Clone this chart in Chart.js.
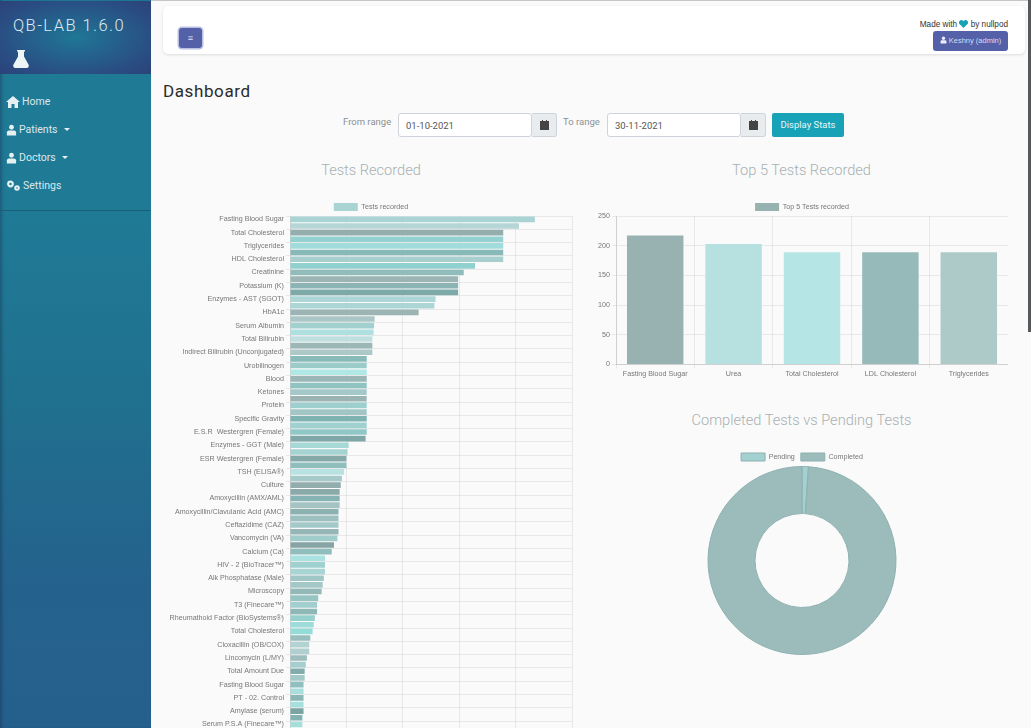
<!DOCTYPE html>
<html><head><meta charset="utf-8"><title>QB-LAB Dashboard</title>
<script src="https://cdn.jsdelivr.net/npm/chart.js@4"></script>
<style>
html,body{margin:0;padding:0;width:1031px;height:728px;overflow:hidden;background:#fafafa;font-family:Roboto,"Liberation Sans",sans-serif}
#page{position:relative;width:1031px;height:728px;overflow:hidden}
.abs{position:absolute;white-space:nowrap}
#topline{left:0;top:0;width:1031px;height:1px;background:#c4c6c8}
#side{left:0;top:0;width:151px;height:728px;background:linear-gradient(180deg,#1f7a96 0%,#1f7a96 30%,#20708f 55%,#24628c 80%,#25608c 100%);box-shadow:inset 3px 0 3px -1px rgba(20,40,70,.35)}
#brand{left:0;top:1px;width:151px;height:73px;background:radial-gradient(ellipse at 50% 50%,#1f7795 0%,#2a4c83 75%,#2b4378 100%)}
#sep{left:0;top:210px;width:151px;height:1px;background:#1c5d78}
.nav{color:#dbe9ee;font-size:10.5px;left:6px;display:flex;align-items:center;gap:2px}
.nav svg{fill:#e6f0f3}
.caret{display:inline-block;width:0;height:0;border-left:3px solid transparent;border-right:3px solid transparent;border-top:3px solid #e6f0f3;margin-left:4px}
#bar{left:163px;top:6px;width:862px;height:48px;background:#fff;border-radius:5px;box-shadow:0 1px 3px rgba(0,0,0,.12)}
#menu{left:179px;top:28px;width:23px;height:20px;background:#5460a8;border-radius:3px;box-shadow:0 0 0 1.5px #b9c0e2;color:#dfe3f3;font-size:9px;line-height:20px;text-align:center}
#made{right:23px;top:20px;font:8.2px "Liberation Sans",sans-serif;color:#333}
#user{left:933px;top:31px;width:75px;height:20px;background:#5460a8;border-radius:3px;color:#d8dcf0;font:7.5px/20px "Liberation Sans",sans-serif;text-align:center}
h1{margin:0;font-weight:400;font-size:17px;letter-spacing:.6px;color:#2b2b2b;left:163px;top:81px}
.lbl{font-size:9.5px;color:#8b9094}
.input{top:113px;height:24px;background:#fff;border:1px solid #ced4da;border-radius:3px;box-sizing:border-box;font-size:9.5px;line-height:24px;padding-left:7px;color:#555}
.addon{top:113px;width:25px;height:24px;background:#e9ecef;border:1px solid #ced4da;border-left:none;border-radius:0 3px 3px 0;box-sizing:border-box;display:flex;align-items:center;justify-content:center}
#go{left:772px;top:113px;width:72px;height:24px;background:#17a2b8;border-radius:2px;color:#e6f6f8;font-size:9.5px;line-height:24px;text-align:center}
.title{font-size:14.6px;color:#a8b1b2;font-weight:300;transform:translateX(-50%)}
#scroll{left:1028px;top:0;width:3px;height:332px;background:#55595c}
canvas{position:absolute;display:block}
</style></head><body><div id="page">
<div class="abs" id="topline"></div>
<div class="abs" id="side"></div><div class="abs" id="brand"></div><div class="abs" id="sep"></div>
<div class="abs" style="left:13px;top:16px;font-size:16.5px;letter-spacing:1.45px;color:#dfecf1;font-weight:300">QB-LAB 1.6.0</div>
<svg class="abs" style="left:13px;top:50px" width="16" height="18" viewBox="0 0 16 18"><path fill="#eef5f7" d="M4 0h8v1.6h-1v5l4.6 8.2c.6 1.2-.1 3.2-1.8 3.2H2.2C.5 18-.2 16 .4 14.800L5 6.600v-5H4z"/></svg>
<div class="abs nav" style="top:95px"><svg width="14" height="12" viewBox="0 0 14 12"><path d="M7 0 0 6h2v6h3.500V8h3v4H12V6h2z"/></svg>Home</div>
<div class="abs nav" style="top:123px"><svg width="11" height="12" viewBox="0 0 12 12"><circle cx="6" cy="3" r="2.600"/><path d="M1 12V8.500C1 7 2.500 6.500 4 6.500h4c1.500 0 3 .5 3 2V12z"/></svg>Patients<span class="caret"></span></div>
<div class="abs nav" style="top:151px"><svg width="11" height="12" viewBox="0 0 12 12"><circle cx="6" cy="3" r="2.600"/><path d="M1 12V8.500C1 7 2.500 6.500 4 6.500h4c1.500 0 3 .5 3 2V12z"/></svg>Doctors<span class="caret"></span></div>
<div class="abs nav" style="top:179px"><svg width="15" height="12" viewBox="0 0 15 12"><circle cx="4.500" cy="4" r="2.300" fill="none" stroke="#e6f0f3" stroke-width="2.200"/><circle cx="11" cy="8" r="1.800" fill="none" stroke="#e6f0f3" stroke-width="2"/></svg>Settings</div>
<div class="abs" id="bar"></div>
<div class="abs" id="menu">≡</div>
<div class="abs" id="made">Made with <svg width="9" height="8" viewBox="0 0 9 8" style="vertical-align:-1px"><path fill="#17a2b8" d="M4.500 8 0 3.500C-.5 1.500 1 0 2.300 0c1 0 1.800.6 2.200 1.300C4.900.6 5.700 0 6.700 0 8 0 9.500 1.500 9 3.500z"/></svg> by nullpod</div>
<div class="abs" id="user"><svg width="7" height="8" viewBox="0 0 12 12" style="vertical-align:-1px"><circle cx="6" cy="3" r="2.800" fill="#eef"/><path fill="#eef" d="M1 12V8.500C1 7 2.500 6.500 4 6.500h4c1.500 0 3 .5 3 2V12z"/></svg> Keshny (admin)</div>
<h1 class="abs">Dashboard</h1>
<div class="abs lbl" style="left:343px;top:116px">From range</div>
<div class="abs input" style="left:398px;width:134px">01-10-2021</div>
<div class="abs addon" style="left:532px"><svg width="9" height="10" viewBox="0 0 9 10"><path fill="#444" d="M0 1h9v9H0zM2 0h1v2H2zM6 0h1v2H6z"/></svg></div>
<div class="abs lbl" style="left:563px;top:116px">To range</div>
<div class="abs input" style="left:607px;width:134px">30-11-2021</div>
<div class="abs addon" style="left:741px"><svg width="9" height="10" viewBox="0 0 9 10"><path fill="#444" d="M0 1h9v9H0zM2 0h1v2H2zM6 0h1v2H6z"/></svg></div>
<div class="abs" id="go">Display Stats</div>
<div class="abs title" style="left:371px;top:161px">Tests Recorded</div>
<div class="abs title" style="left:801.500px;top:161px">Top 5 Tests Recorded</div>
<div class="abs title" style="left:801.500px;top:411px">Completed Tests vs Pending Tests</div>
<div class="abs" id="scroll"></div>
<canvas id="c1" style="left:161px;top:197px"></canvas>
<canvas id="c2" style="left:596px;top:197px"></canvas>
<canvas id="c3" style="left:592px;top:447px"></canvas>
</div>
<script>
const testTickLabels = ["Fasting Blood Sugar","Total Cholesterol","Triglycerides","HDL Cholesterol","Creatinine","Potassium (K)","Enzymes - AST (SGOT)","HbA1c","Serum Albumin","Total Bilirubin","Indirect Bilirubin (Unconjugated)","Urobilinogen","Blood","Ketones","Protein","Specific Gravity","E.S.R  Westergren (Female)","Enzymes - GGT (Male)","ESR Westergren (Female)","TSH (ELISA®)","Culture","Amoxycillin (AMX/AML)","Amoxycillin/Clavulanic Acid (AMC)","Ceftazidime (CAZ)","Vancomycin (VA)","Calcium (Ca)","HIV - 2 (BioTracer™)","Alk Phosphatase (Male)","Microscopy","T3 (Finecare™)","Rheumathoid Factor (BioSystems®)","Total Cholesterol","Cloxacillin (OB/COX)","Lincomycin (L/MY)","Total Amount Due","Fasting Blood Sugar","PT - 02. Control","Amylase (serum)","Serum P.S.A (Finecare™)"];
const testValues = [217,203,189,189,189,189,189,164,154,149,149,149,129,128,114,75,74.5,74,73,73,73,68,68,68,68,68,68,68,68,68,68,68,68,67,52,51,50,50,48,46,45,44,44,44,43,43,43,43,42,39,37,31,31,31,30,29,28,25,24,24,22,21,20,18,17,17,15,14,13,13,12,12,12,12,12,11,11,11];
const testColors = ["#a9d4d3","#b5d5d6","#94aeae","#94d2d1","#a0dcdb","#87b9b8","#a8cfce","#90d0cf","#90bcbb","#9bb4b4","#8db4b4","#7ea9a9","#aed6d6","#acd5d5","#9db4b4","#abc6c6","#a1d0cf","#aee0df","#c0e0df","#9bb8b7","#acc9c8","#87bab9","#9accca","#b0e8e6","#9ab6b6","#8fc4c2","#a3c8c7","#9ab4b4","#9dcfce","#a2c6c5","#7fb3b2","#a0d0cf","#8fc8c6","#80a7a7","#a6d8d6","#a4d3d2","#85a9a9","#8fbfbd","#b8e2e2","#a6cac9","#93adad","#8aa9a9","#85b2b2","#a3c4c3","#8cb1b1","#9bc0bf","#a3cac9","#96b6b6","#a0cccc","#87a4a4","#90bebc","#a9e2e1","#9fd1d0","#a7d5d4","#a0c6c6","#a3c8c7","#92b8b8","#96c4c2","#a0cfcd","#8db8b6","#95d0cd","#9ddcd9","#93dcd8","#96bfbd","#b3d3d2","#b0cfce","#9dbebd","#a5cfce","#82acac","#a2c9c8","#8fc0bf","#a8dedc","#8ab7b6","#a6e0de","#7aa4a4","#82b2b1","#a6dedc","#a6dedc"];
const topLabels = ["Fasting Blood Sugar","Urea","Total Cholesterol","LDL Cholesterol","Triglycerides"];
const topValues = [217,203,189,189,189];
const topColors = ["#97b2b1","#b7e1e1","#b5e5e4","#96bab9","#adcac8"];
const statusLabels = ["Pending","Completed"];
const statusValues = [40,3560];
const statusColors = ["#a3d0d0","#9cbcbc"];

const FS = 7.15, TXT = "#777777", GRID = "rgba(0,0,0,.07)";
Chart.defaults.font.size = FS;
Chart.defaults.font.family = '"Liberation Sans",Arial,sans-serif';
Chart.defaults.color = TXT;
Chart.defaults.animation = false;
Chart.defaults.responsive = false;
Chart.defaults.devicePixelRatio = 1;
const legend = {position:"top",labels:{boxWidth:24,boxHeight:8,padding:6,color:TXT,font:{size:FS}}};
const tightLegend = {id:"tightLegend",beforeInit(chart){const fit=chart.legend.fit;chart.legend.fit=function(){fit.call(this);this.height-=5;};}};

function size(id,w,h){const c=document.getElementById(id);c.width=w;c.height=h;return c;}

const cats = testValues.map((v,i)=> i%2 ? "" : testTickLabels[i/2]);
new Chart(size("c1",420,560),{type:"bar",plugins:[tightLegend],
 data:{labels:cats,datasets:[{label:"Tests recorded",data:testValues,backgroundColor:testColors,borderWidth:0,barPercentage:.92,categoryPercentage:.92}]},
 options:{indexAxis:"y",plugins:{legend:{...legend,labels:{...legend.labels,generateLabels:()=>[{text:"Tests recorded",fillStyle:"#a9d4d3",strokeStyle:"#a9d4d3",lineWidth:0,fontColor:TXT,datasetIndex:0}]}},tooltip:{enabled:false}},
  scales:{
   x:{min:0,max:250,ticks:{stepSize:50,font:{size:FS}},grid:{color:GRID}},
   y:{afterFit:s=>{s.width=129},ticks:{autoSkip:false,padding:2,font:{size:FS},color:TXT},grid:{color:GRID,tickLength:4,lineWidth:c=>c.index%2?0:1}}
  }}});

new Chart(size("c2",412,182),{type:"bar",plugins:[tightLegend],
 data:{labels:topLabels,datasets:[{label:"Top 5 Tests recorded",data:topValues,backgroundColor:topColors,borderWidth:0}]},
 options:{plugins:{legend:{...legend,labels:{...legend.labels,generateLabels:()=>[{text:"Top 5 Tests recorded",fillStyle:"#97b2b1",strokeStyle:"#97b2b1",lineWidth:0,fontColor:TXT,datasetIndex:0}]}},tooltip:{enabled:false}},
  scales:{
   x:{ticks:{autoSkip:false,maxRotation:0,padding:1,font:{size:FS}},grid:{color:GRID,tickLength:4}},
   y:{min:0,max:250,afterFit:s=>{s.width=20},ticks:{stepSize:50,padding:2,font:{size:FS}},grid:{color:GRID,tickLength:4}}
  }}});

new Chart(size("c3",420,208),{type:"doughnut",plugins:[tightLegend],
 data:{labels:statusLabels,datasets:[{data:statusValues,backgroundColor:statusColors,borderColor:"#8fb0b0",borderWidth:1}]},
 options:{cutout:"50%",plugins:{legend,tooltip:{enabled:false}}}});
</script>
</body></html>
